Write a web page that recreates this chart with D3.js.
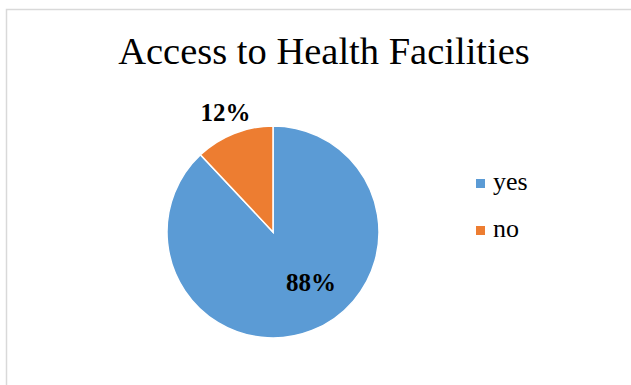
<!DOCTYPE html>
<html>
<head>
<meta charset="utf-8">
<script src="https://cdn.jsdelivr.net/npm/d3@7"></script>
<style>
  html, body { margin: 0; padding: 0; background: #fff; }
  svg { display: block; }
</style>
</head>
<body>
<svg id="chart" width="631" height="385"></svg>
<script>
// Chart data
const categories = ["yes", "no"];
const values = [88, 12];
const labels = ["88%", "12%"];
const colors = ["#5B9BD5", "#ED7D31"];
const title = "Access to Health Facilities";

const svg = d3.select("#chart");
const W = 631, H = 385;

// chart area frame (open on right/bottom)
svg.append("rect")
  .attr("x", 6.5).attr("y", 9.5)
  .attr("width", W + 10).attr("height", H + 10)
  .attr("fill", "#fff").attr("stroke", "#d9d9d9").attr("stroke-width", 1.5);

svg.append("text")
  .attr("x", 324).attr("y", 64)
  .attr("text-anchor", "middle")
  .attr("font-family", "Liberation Serif, serif")
  .attr("font-size", 38.5)
  .attr("fill", "#000")
  .text(title);

const cx = 273, cy = 232, r = 106;
const color = d3.scaleOrdinal().domain(categories).range(colors);

const pie = d3.pie().sort(null).value(d => d.value);
const data = categories.map((c, i) => ({ cat: c, value: values[i], label: labels[i] }));
const arcs = pie(data);
const arc = d3.arc().innerRadius(0).outerRadius(r);

const g = svg.append("g").attr("transform", `translate(${cx},${cy})`);
g.selectAll("path").data(arcs).enter().append("path")
  .attr("d", arc)
  .attr("fill", d => color(d.data.cat))
  .attr("stroke", "#fff")
  .attr("stroke-width", 1.5);

// value labels: large slice labelled inside (best-fit, toward the open side),
// small slice labelled just outside its rim
function labelPos(d) {
  if (d.data.value > 50) {
    const a = d.startAngle + (d.endAngle - d.startAngle) * 0.452;
    return d3.pointRadial(a, r * 0.6);
  }
  const a = (d.startAngle + d.endAngle) / 2;
  return d3.pointRadial(a, r * 1.215);
}
g.selectAll("text.val").data(arcs).enter().append("text")
  .attr("class", "val")
  .attr("transform", d => {
    const p = labelPos(d);
    return `translate(${p[0]},${p[1]})`;
  })
  .attr("text-anchor", "middle")
  .attr("dy", "0.34em")
  .attr("font-family", "Liberation Serif, serif")
  .attr("font-weight", "bold")
  .attr("font-size", 25)
  .attr("fill", "#000")
  .text(d => d.data.label);

// legend
const legend = svg.append("g").attr("transform", "translate(476,183.5)");
const item = legend.selectAll("g").data(categories).enter().append("g")
  .attr("transform", (d, i) => `translate(0,${i * 47})`);
item.append("rect")
  .attr("x", 0).attr("y", -4.5).attr("width", 9).attr("height", 9)
  .attr("fill", d => color(d));
item.append("text")
  .attr("x", 17).attr("y", 6)
  .attr("font-family", "Liberation Serif, serif")
  .attr("font-size", 26)
  .attr("fill", "#000")
  .text(d => d);
</script>
</body>
</html>
